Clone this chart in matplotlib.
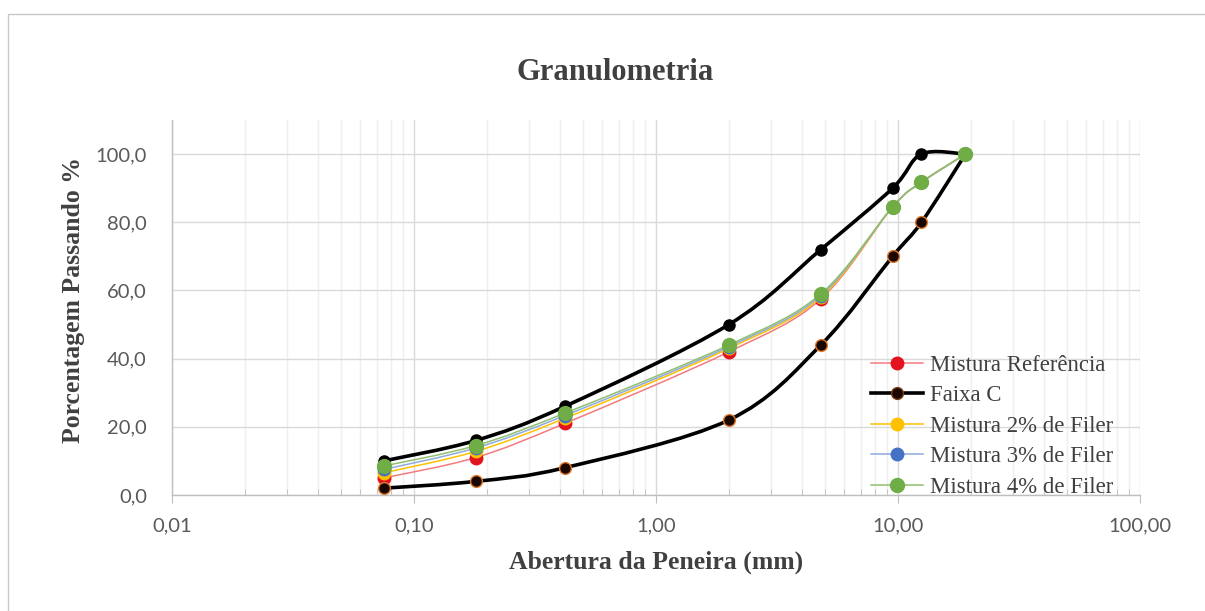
import numpy as np
import matplotlib
matplotlib.use('Agg')
import matplotlib.pyplot as plt
from matplotlib.path import Path
from matplotlib.patches import PathPatch, Rectangle
from matplotlib.lines import Line2D
from matplotlib.ticker import FixedLocator, LogLocator, FuncFormatter, NullFormatter

# ── Data ──────────────────────────────────────────────────────────────────────
sieves = [0.075, 0.18, 0.42, 2.0, 4.8, 9.5, 12.5, 19.0]

faixa_sup = [10, 16, 26, 50, 72, 90, 100, 100]
faixa_inf = [2, 4, 8, 22, 44, 70, 80, 100]

mist_ref = [5, 11, 21, 42, 57.5, 84.5, 91.7, 100]
mist_2 = [6.5, 12.8, 22.5, 43, 58, 84.5, 91.7, 100]
mist_3 = [7.5, 13.8, 23.3, 43.5, 58.5, 84.5, 91.7, 100]
mist_4 = [8.5, 14.5, 24, 44, 59, 84.5, 91.8, 100]

x_ticks = [0.01, 0.1, 1, 10, 100]
y_ticks = [0, 20, 40, 60, 80, 100]

SERIF = 'Liberation Serif'
SANS = 'Lato'
TICK_COLOR = '#595959'


def smooth_path(xs, ys):
    # Excel-like smoothed line (Catmull-Rom as cubic Bezier in log-x space)
    lx = np.log10(np.asarray(xs, float))
    y = np.asarray(ys, float)
    n = len(lx)
    verts = [(lx[0], y[0])]
    codes = [Path.MOVETO]
    for i in range(n - 1):
        a = max(i - 1, 0)
        b = min(i + 2, n - 1)
        c1 = (lx[i] + (lx[i + 1] - lx[a]) / 6, y[i] + (y[i + 1] - y[a]) / 6)
        c2 = (lx[i + 1] - (lx[b] - lx[i]) / 6, y[i + 1] - (y[b] - y[i]) / 6)
        verts += [c1, c2, (lx[i + 1], y[i + 1])]
        codes += [Path.CURVE4] * 3
    verts = [(10 ** vx, vy) for vx, vy in verts]
    return Path(verts, codes)


def draw_series(ax, ys, lc, lw, mfc, mec, ms, z):
    ax.add_patch(PathPatch(smooth_path(sieves, ys), fill=False, ec=lc, lw=lw,
                           zorder=z, capstyle='round', joinstyle='round'))
    ax.plot(sieves, ys, ls='none', marker='o', ms=ms, mfc=mfc, mec=mec,
            mew=1.0, zorder=z + 0.5)


fig = plt.figure(figsize=(12.05, 6.11), dpi=100)
fig.patch.set_facecolor('white')
# outer chart frame
fig.add_artist(Rectangle((8 / 1205, -0.1), 1.2, (611 - 14) / 611 + 0.1,
                         transform=fig.transFigure, fill=False,
                         ec='#c8c8c8', lw=1.0))

ax = fig.add_axes([172 / 1205, (611 - 495) / 611, (1140 - 172) / 1205, (495 - 120) / 611])
ax.set_facecolor('white')
ax.set_xscale('log')
ax.set_xlim(0.01, 100)
ax.set_ylim(0, 110)

# ── Series ────────────────────────────────────────────────────────────────────
draw_series(ax, mist_ref, '#f27b80', 1.1, '#e3131e', '#e3131e', 9, 3)
draw_series(ax, faixa_sup, 'black', 2.6, 'black', 'black', 8, 4)
draw_series(ax, faixa_inf, 'black', 2.6, '#1a0800', '#e07a2c', 8.5, 4)
draw_series(ax, mist_2, '#ffc000', 1.1, '#ffc000', '#ffc000', 9, 5)
draw_series(ax, mist_3, '#8faadc', 1.1, '#4472c4', '#4472c4', 9, 6)
draw_series(ax, mist_4, '#8fbf6f', 1.1, '#70ad47', '#70ad47', 10, 7)

# ── Axes styling ──────────────────────────────────────────────────────────────
ax.xaxis.set_major_locator(FixedLocator(x_ticks))
ax.xaxis.set_minor_locator(LogLocator(base=10, subs=np.arange(2, 10)))
ax.xaxis.set_minor_formatter(NullFormatter())
ax.xaxis.set_major_formatter(FuncFormatter(lambda v, p: f'{v:.2f}'.replace('.', ',')))
ax.yaxis.set_major_locator(FixedLocator(y_ticks))
ax.yaxis.set_major_formatter(FuncFormatter(lambda v, p: f'{v:.1f}'.replace('.', ',')))

ax.grid(True, which='major', color='#d9d9d9', lw=1.0, zorder=0)
ax.grid(True, which='minor', axis='x', color='#efefef', lw=1.0, zorder=0)
ax.set_axisbelow(True)

for s in ['top', 'right']:
    ax.spines[s].set_visible(False)
for s in ['left', 'bottom']:
    ax.spines[s].set_color('#bfbfbf')
    ax.spines[s].set_linewidth(1.0)

ax.tick_params(axis='x', which='major', direction='out', length=6, color='#bfbfbf',
               labelsize=14.5, labelcolor=TICK_COLOR, pad=10)
ax.tick_params(axis='x', which='minor', direction='in', length=4, color='#bfbfbf')
ax.tick_params(axis='y', which='major', length=0, labelsize=14.5,
               labelcolor=TICK_COLOR, pad=18)
for lbl in ax.get_xticklabels() + ax.get_yticklabels():
    lbl.set_family(SANS)

ax.set_xlabel('Abertura da Peneira (mm)', family=SERIF, fontweight='bold',
              fontsize=18.5, color='#404040', labelpad=12)
ax.set_ylabel('Porcentagem Passando %', family=SERIF, fontweight='bold',
              fontsize=18.5, color='#404040')
ax.yaxis.set_label_coords(-0.09, 0.52)
fig.text(615 / 1205, 1 - 73 / 611, 'Granulometria', family=SERIF, fontweight='bold',
         fontsize=22, color='#404040', ha='center', va='center')

# ── Legend ────────────────────────────────────────────────────────────────────
handles = [
    Line2D([], [], color='#f27b80', lw=1.1, marker='o', ms=9, mfc='#e3131e', mec='#e3131e'),
    Line2D([], [], color='black', lw=2.6, marker='o', ms=8.5, mfc='#1a0800', mec='#7a3a10'),
    Line2D([], [], color='#ffc000', lw=1.1, marker='o', ms=9, mfc='#ffc000', mec='#ffc000'),
    Line2D([], [], color='#8faadc', lw=1.1, marker='o', ms=9, mfc='#4472c4', mec='#4472c4'),
    Line2D([], [], color='#8fbf6f', lw=1.1, marker='o', ms=10, mfc='#70ad47', mec='#70ad47'),
]
labels = ['Mistura Referência', 'Faixa C', 'Mistura 2% de Filer',
          'Mistura 3% de Filer', 'Mistura 4% de Filer']
leg = ax.legend(handles, labels, loc='lower right', bbox_to_anchor=(0.982, -0.032),
                frameon=False, prop={'family': SERIF, 'size': 16.4},
                handlelength=2.3, handletextpad=0.3, labelspacing=0.42,
                borderaxespad=0.0)
for t in leg.get_texts():
    t.set_color('#404040')
leg.set_zorder(10)

fig.savefig('out.png', dpi=100)
